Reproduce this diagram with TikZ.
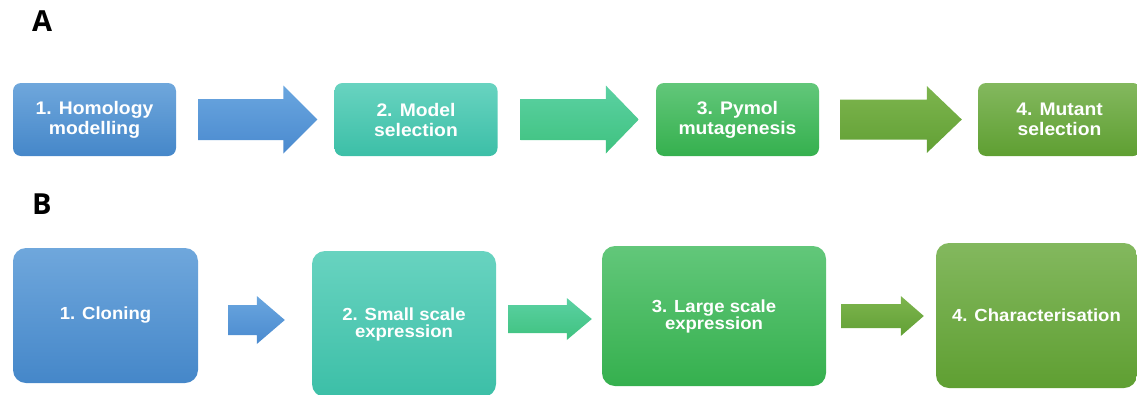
\documentclass[tikz,border=0pt]{standalone}
\usepackage{fontspec}
\setmainfont{Liberation Sans}[FakeStretch=1.06]
\newfontfamily\panelfont{Open Sans}
\usetikzlibrary{calc}
\definecolor{blueT}{RGB}{111,167,220}
\definecolor{blueB}{RGB}{69,135,201}
\definecolor{tealT}{RGB}{104,211,192}
\definecolor{tealB}{RGB}{60,191,167}
\definecolor{grnT}{RGB}{98,199,122}
\definecolor{grnB}{RGB}{53,176,78}
\definecolor{oliT}{RGB}{131,184,94}
\definecolor{oliB}{RGB}{95,159,50}
\definecolor{abT}{RGB}{106,166,223}
\definecolor{abB}{RGB}{74,138,207}
\definecolor{atT}{RGB}{91,209,163}
\definecolor{atB}{RGB}{63,194,127}
\definecolor{aoT}{RGB}{125,181,78}
\definecolor{aoB}{RGB}{98,160,53}
\newcommand\fatarrow[9]{%
  \shade[#9] let \p1=($(#1.east)+(#3pt,#5pt)$), \p2=($(#2.west)+(-#4pt,0pt)$) in
  (\x1,\y1+#6pt) -- (\x2-#8pt,\y1+#6pt) -- (\x2-#8pt,\y1+#7pt) -- (\x2,\y1)
  -- (\x2-#8pt,\y1-#7pt) -- (\x2-#8pt,\y1-#6pt) -- (\x1,\y1-#6pt) -- cycle;}
\begin{document}
\begin{tikzpicture}[x=1pt,y=1pt,
  boxbase/.style={text=white, align=center, inner sep=0pt},
  boxA/.style={boxbase, rounded corners=8pt, minimum width=163pt, minimum height=73pt,
    font=\bfseries\fontsize{18.2}{20}\selectfont},
  boxB/.style={boxbase, rounded corners=13pt,
    font=\bfseries\fontsize{17.5}{17}\selectfont},
  blueshade/.style={top color=blueT, bottom color=blueB},
  tealshade/.style={top color=tealT, bottom color=tealB},
  grnshade/.style={top color=grnT, bottom color=grnB},
  olishade/.style={top color=oliT, bottom color=oliB},
  arrblue/.style={top color=abT, bottom color=abB},
  arrteal/.style={top color=atT, bottom color=atB},
  arroli/.style={top color=aoT, bottom color=aoB},
  panel/.style={anchor=base west, inner sep=0pt, font=\panelfont\bfseries\fontsize{29}{29}\selectfont}]
\useasboundingbox (0,0) rectangle (1137,-394);
\clip (0,0) rectangle (1137,-394);
% panel labels
\node[panel] (labA) at (32,-31.5) {A};
\node[panel] (labB) at (32,-214) {B};
% row A
\node[boxA, blueshade] (A1) at (94.5,-119.5) {1. Homology\\modelling};
\node[boxA, tealshade] (A2) at (416,-119.5) {2. Model\\selection};
\node[boxA, grnshade] (A3) at (737.5,-119.5) {3. Pymol\\mutagenesis};
\node[boxA, olishade] (A4) at (1059.5,-119.5) {4. Mutant\\selection};
\fatarrow{A1}{A2}{22}{17}{0}{20.5}{34}{34}{arrblue}
\fatarrow{A2}{A3}{23}{17}{0}{20.5}{34}{33}{arrteal}
\fatarrow{A3}{A4}{21}{16}{0}{20}{33.5}{35}{arroli}
% row B
\node[boxB, blueshade, minimum width=185pt, minimum height=135pt] (B1) at (105.5,-315.5) {1. Cloning};
\node[boxB, tealshade, minimum width=184pt, minimum height=146pt] (B2) at (404,-324) {2. Small scale\\expression};
\node[boxB, grnshade, minimum width=224pt, minimum height=140pt] (B3) at (714,-316) {3. Large scale\\expression};
\node[boxB, olishade, minimum width=201pt, minimum height=145pt] (B4) at (1036.5,-315.5) {4. Characterisation};
\fatarrow{B1}{B2}{30}{27}{-4.5}{15}{24}{28}{arrblue}
\fatarrow{B2}{B3}{12}{10}{5}{14}{21}{25}{arrteal}
\fatarrow{B3}{B4}{15}{12}{0}{12}{20}{23}{arroli}
\end{tikzpicture}
\end{document}
